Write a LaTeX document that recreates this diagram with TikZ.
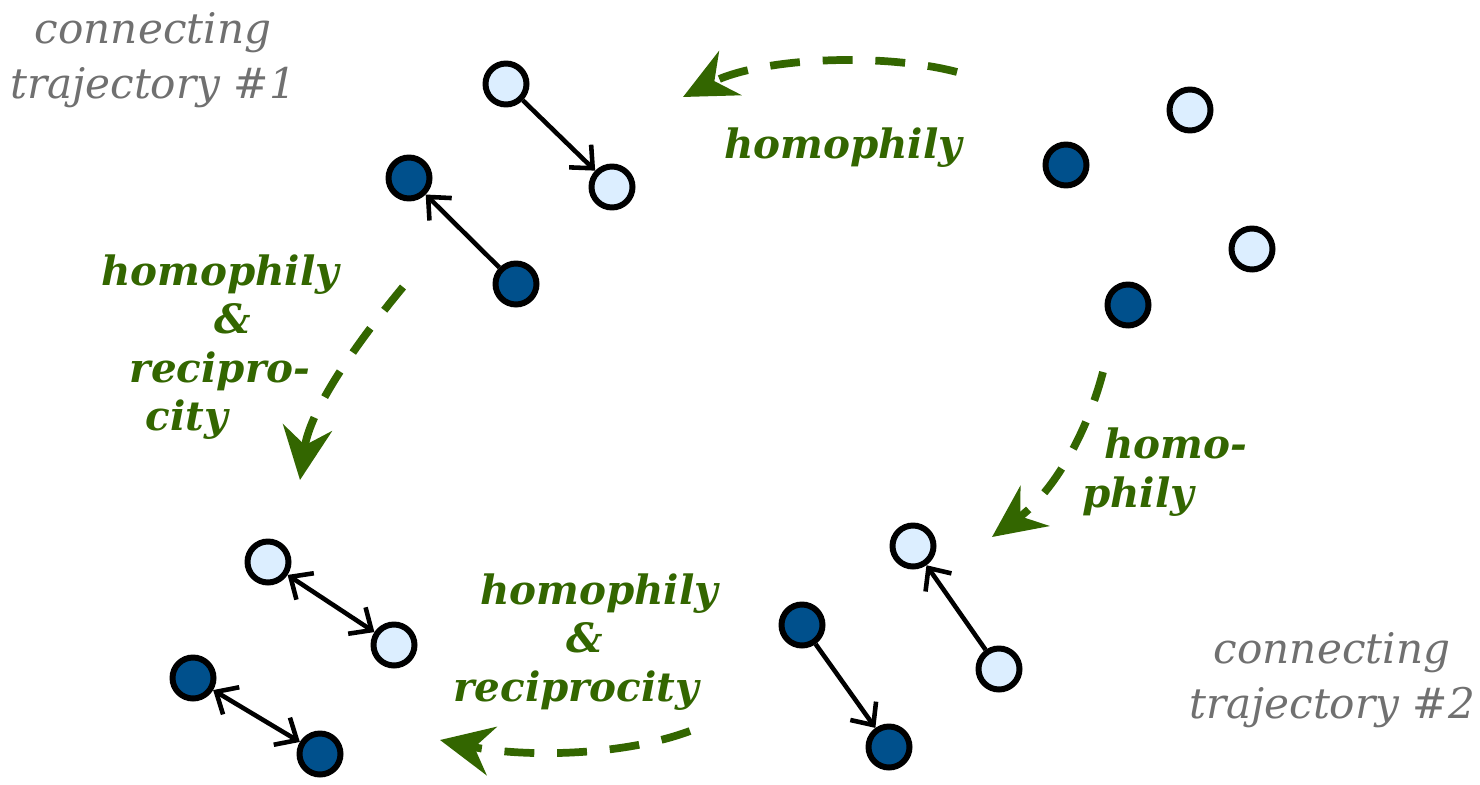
\documentclass[tikz,border=0pt]{standalone}
\usepackage{fontspec}
\setmainfont{DejaVu Serif}
\usetikzlibrary{arrows.meta}

\definecolor{lightnode}{RGB}{220,238,255}
\definecolor{darknode}{RGB}{0,80,140}
\definecolor{leafgreen}{RGB}{51,102,0}
\definecolor{captiongray}{RGB}{112,112,112}

\begin{document}
\begin{tikzpicture}[x=0.02cm, y=-0.02cm,
  agent/.style={circle, draw=black, line width=3.4pt, minimum size=0.82cm, inner sep=0pt},
  light/.style={agent, fill=lightnode},
  dark/.style={agent, fill=darknode},
  barb/.tip={Straight Barb[length=10pt,width=18pt,line width=2.6pt]},
  tie/.style={line width=2.6pt, -barb},
  mutual/.style={line width=2.6pt, barb-barb},
  move/.style={leafgreen, line width=4.4pt, dash pattern=on 17pt off 13pt, -{Stealth[length=30pt,width=28pt,inset=10pt]}},
  mechanism/.style={leafgreen, font=\fontsize{23}{27.5}\selectfont\bfseries\itshape, align=center},
  caption/.style={captiongray, font=\fontsize{24}{31}\selectfont\itshape, align=center}]
  \useasboundingbox (0,0) rectangle (1480,784);

  % captions
  \node[caption] (cap1) at (153,60) {connecting\\trajectory \#1};
  \node[caption] (cap2) at (1332,680) {connecting\\trajectory \#2};

  % start: unconnected agents
  \node[light] (s1) at (1190,110) {};
  \node[dark]  (s2) at (1066,165) {};
  \node[light] (s3) at (1252,249) {};
  \node[dark]  (s4) at (1128,305) {};

  % trajectory 1: homophily first
  \node[light] (a1) at (506,84) {};
  \node[light] (a2) at (612,187) {};
  \node[dark]  (a3) at (409,178) {};
  \node[dark]  (a4) at (516,284) {};
  \draw[tie] (a1) -- (a2);
  \draw[tie] (a4) -- (a3);

  % trajectory 2: homophily first
  \node[light] (b1) at (913,546) {};
  \node[light] (b2) at (999,669) {};
  \node[dark]  (b3) at (802,625) {};
  \node[dark]  (b4) at (889,747) {};
  \draw[tie] (b2) -- (b1);
  \draw[tie] (b3) -- (b4);

  % end: reciprocated ties
  \node[light] (c1) at (268,562) {};
  \node[light] (c2) at (394,645) {};
  \node[dark]  (c3) at (193,678) {};
  \node[dark]  (c4) at (320,754) {};
  \draw[mutual] (c1) -- (c2);
  \draw[mutual] (c3) -- (c4);

  % transitions
  \coordinate (t1s) at (957,72);   \coordinate (t1e) at (683,97);
  \coordinate (t2s) at (403,287);  \coordinate (t2e) at (300,480);
  \coordinate (t3s) at (1103,372); \coordinate (t3e) at (992,537);
  \coordinate (t4s) at (690,731);  \coordinate (t4e) at (440,740);
  \draw[move] (t1s) .. controls (880,52) and (760,58) .. (t1e);
  \draw[move] (t2s) .. controls (355,345) and (310,410) .. (t2e);
  \draw[move] (t3s) .. controls (1085,440) and (1050,495) .. (t3e);
  \draw[move] (t4s) .. controls (620,757) and (520,757) .. (t4e);

  \node[mechanism] (m1) at (843,148) {homophily};
  \node[mechanism] (m2) at (220,347) {homophily\\\hspace*{15pt}\&\\recipro-\hspace*{22pt}\\city\hspace*{38pt}};
  \node[mechanism] (m3) at (1160,472) {\hspace*{18pt}homo-\\phily\hspace*{25pt}};
  \node[mechanism] (m4) at (585,642) {\hspace*{16pt}homophily\\\&\hspace*{26pt}\\reciprocity\hspace*{10pt}};
\end{tikzpicture}
\end{document}
